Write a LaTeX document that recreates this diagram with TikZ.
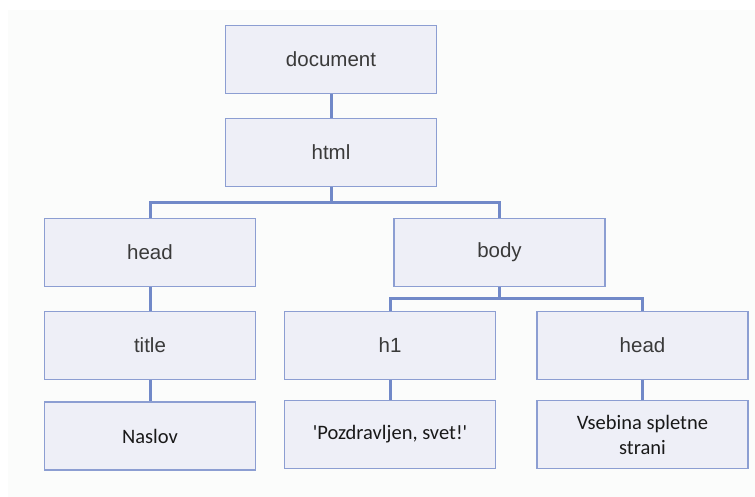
\documentclass[tikz,border=0pt]{standalone}
\usepackage{fontspec}
\setmainfont{Liberation Sans}
\newfontfamily\calib{Carlito}
\definecolor{boxfill}{HTML}{EEEFF7}
\definecolor{boxline}{HTML}{8C9ED2}
\definecolor{conn}{HTML}{7189C8}
\definecolor{txt}{HTML}{3A3A3A}
\definecolor{bg}{HTML}{FBFCFB}
\begin{document}
\begin{tikzpicture}[x=1pt,y=-1pt,
  box/.style={draw=boxline,line width=1.8pt,fill=boxfill,minimum width=211pt,minimum height=68pt,inner sep=0pt,text=txt,font=\fontsize{20.5}{23}\selectfont},
  leaf/.style={box,text=black!90,font=\calib\fontsize{20.5}{25}\selectfont,align=center},
  link/.style={draw=conn,line width=3pt}]
\useasboundingbox (0,0) rectangle (755,497);
\fill[bg] (8,10) rectangle (755,497);
\node[box] (doc) at (331,59.5) {document};
\node[box] (html) at (331,152.5) {html};
\node[box] (head) at (150,252.5) {head};
\node[box] (body) at (499.5,252.5) {body};
\node[box] (title) at (150,345.5) {title};
\node[box] (h1) at (390,345.5) {h1};
\node[box] (head2) at (642.5,345.5) {head};
\node[leaf] (naslov) at (150,436) {Naslov};
\node[leaf] (pozd) at (390,434.5) {'Pozdravljen, svet!'};
\node[leaf] (vseb) at (642.5,434.5) {Vsebina spletne\\strani};
\coordinate (j1) at (331,203);
\coordinate (j2) at (499.5,298);
\path[link] (doc.south) -- (html.north);
\path[link] (html.south) -- (j1);
\path[link] (head.north) |- (j1) -| (body.north);
\path[link] (body.south) -- (j2);
\path[link] (h1.north) |- (j2) -| (head2.north);
\path[link] (head.south) -- (title.north);
\path[link] (title.south) -- (naslov.north);
\path[link] (h1.south) -- (pozd.north);
\path[link] (head2.south) -- (vseb.north);
\end{tikzpicture}
\end{document}
